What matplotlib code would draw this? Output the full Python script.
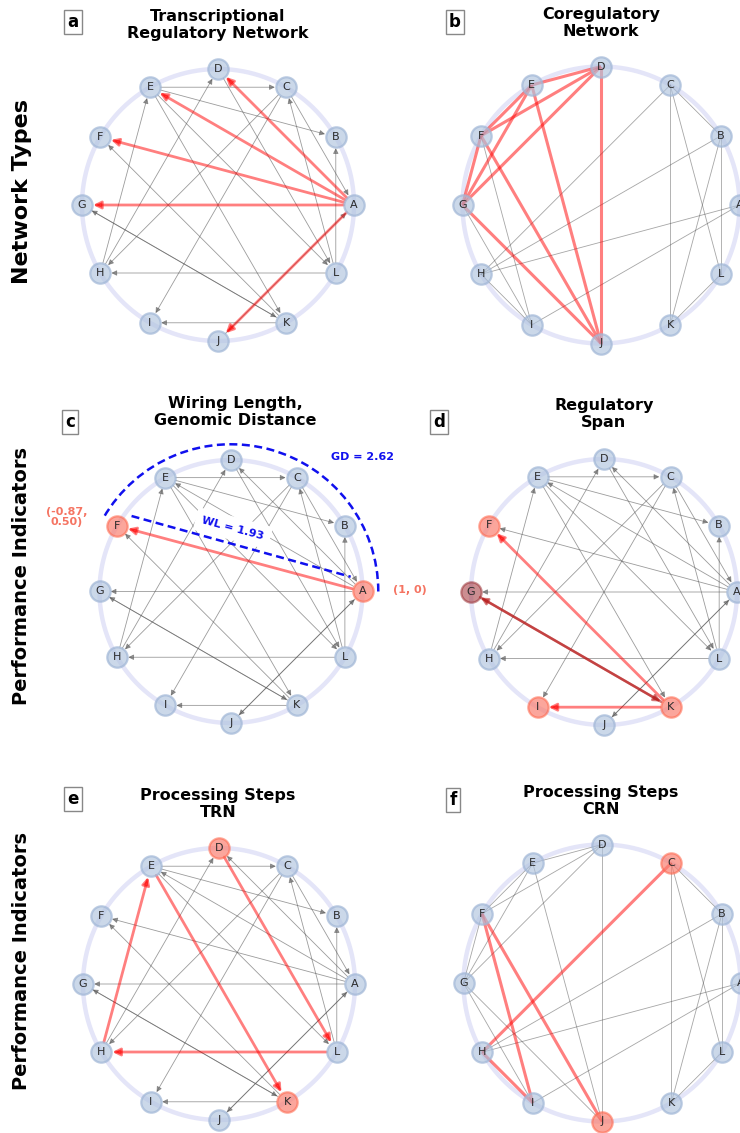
import numpy as np
import matplotlib.pyplot as plt
from matplotlib.patches import FancyArrowPatch, Arc

W, H = 740, 1133

# --- data -----------------------------------------------------------------
nodes = list("ABCDEFGHIJKL")
node_angles = [0, 30, 60, 90, 120, 150, 180, 210, 240, 270, 300, 330]

# transcriptional regulatory network (directed)
trn_edges = [("A", "D"), ("A", "E"), ("A", "F"), ("A", "G"), ("A", "J"), ("J", "A"),
             ("C", "A"), ("E", "C"), ("E", "B"), ("H", "D"), ("H", "E"), ("C", "H"),
             ("C", "I"), ("L", "C"), ("D", "L"), ("E", "L"), ("E", "K"), ("L", "B"),
             ("L", "H"), ("K", "I"), ("K", "F"), ("G", "K"), ("K", "G")]

# coregulatory network (undirected)
crn_edges = [("D", "E"), ("D", "F"), ("D", "G"), ("D", "J"), ("E", "F"), ("E", "G"),
             ("E", "J"), ("F", "G"), ("F", "J"), ("G", "J"), ("F", "I"), ("G", "I"),
             ("H", "I"), ("C", "H"), ("C", "B"), ("C", "K"), ("C", "L"), ("B", "K"),
             ("B", "L"), ("B", "H"), ("A", "H"), ("A", "I"), ("L", "K")]

red_a = [("A", "D"), ("A", "E"), ("A", "F"), ("A", "G"), ("A", "J")]
red_b = [("D", "E"), ("D", "F"), ("D", "G"), ("D", "J"), ("E", "F"), ("E", "G"),
         ("E", "J"), ("F", "G"), ("F", "J"), ("G", "J")]
red_c = [("A", "F")]
red_d = [("K", "F"), ("K", "I")]
dark_d = [("K", "G"), ("G", "K")]
red_e = [("D", "L"), ("L", "H"), ("H", "E"), ("E", "K")]
red_f = [("C", "H"), ("H", "I"), ("I", "F"), ("F", "J")]

hl_c = ["A", "F"]
hl_d = ["F", "I", "K"]
dark_nodes_d = ["G"]
hl_e = ["D", "K"]
hl_f = ["C", "J"]

wl_value = 1.93
gd_value = 2.62
coord_a = "(1, 0)"
coord_f = "(-0.87,\n0.50)"

titles = ["Transcriptional\nRegulatory Network", "Coregulatory\nNetwork",
          "Wiring Length,\nGenomic Distance", "Regulatory\nSpan",
          "Processing Steps\nTRN", "Processing Steps\nCRN"]
letters = ["a", "b", "c", "d", "e", "f"]
row_labels = ["Network Types", "Performance Indicators", "Performance Indicators"]

# --- layout (pixels) -------------------------------------------------------
centers = [(218, 205, 136), (601, 205, 138.5), (231, 591.5, 131.5),
           (604, 592, 133), (219, 984, 136), (602, 983, 138.5)]
title_pos = [(218, 25), (601, 23), (235, 412), (604, 414), (218, 804), (601, 801)]
letter_pos = [(73, 22), (455, 22), (70, 422), (439, 422), (73, 799), (453, 800)]
row_pos = [(22, 191), (22, 576), (22, 961)]
row_sizes = [16, 14, 14]

pos = {n: (np.cos(np.radians(a)), np.sin(np.radians(a))) for n, a in zip(nodes, node_angles)}

NODE_FACE = (176/255, 196/255, 222/255, 0.65)
NODE_EDGE = (160/255, 182/255, 214/255, 0.7)
HL_FACE = (250/255, 128/255, 114/255, 0.7)
HL_EDGE = (255/255, 99/255, 71/255, 0.55)
DARK_FACE = (163/255, 50/255, 55/255, 0.55)
DARK_EDGE = (150/255, 40/255, 45/255, 0.5)

fig = plt.figure(figsize=(W / 100, H / 100), dpi=100)

L = 1.5


def make_ax(cx, cy, r):
    ax = fig.add_axes([(cx - L * r) / W, 1 - (cy + L * r) / H, 2 * L * r / W, 2 * L * r / H])
    ax.set_xlim(-L, L)
    ax.set_ylim(-L, L)
    ax.axis("off")
    t = np.linspace(0, 2 * np.pi, 300)
    ax.plot(np.cos(t), np.sin(t), color="#e4e5f8", lw=3.2, zorder=0, solid_capstyle="round")
    return ax


def arrow(ax, u, v, color, lw, ms, z):
    p = FancyArrowPatch(pos[u], pos[v], arrowstyle="-|>", mutation_scale=ms,
                        color=color, lw=lw, shrinkA=7.5, shrinkB=8, zorder=z)
    ax.add_patch(p)


def draw_nodes(ax, hl=(), dark=()):
    for n in nodes:
        if n in dark:
            fc, ec = DARK_FACE, DARK_EDGE
        elif n in hl:
            fc, ec = HL_FACE, HL_EDGE
        else:
            fc, ec = NODE_FACE, NODE_EDGE
        x, y = pos[n]
        ax.scatter([x], [y], s=215, color=[fc], edgecolors=[ec], linewidths=1.6, zorder=3)
        ax.text(x, y, n, ha="center", va="center", fontsize=8, color="#2a2a2a", zorder=4)


def draw_trn(ax, red=(), dark=()):
    for u, v in trn_edges:
        if (u, v) in red or (u, v) in dark:
            continue
        arrow(ax, u, v, (0.35, 0.35, 0.35, 0.6), 0.6, 8, 1)
    for u, v in red:
        arrow(ax, u, v, (1, 0, 0, 0.5), 2.0, 11, 2)
    for u, v in dark:
        arrow(ax, u, v, (0.72, 0.12, 0.12, 0.6), 1.8, 10, 2)


def draw_crn(ax, red=()):
    red_set = {frozenset(e) for e in red}
    for u, v in crn_edges:
        if frozenset((u, v)) in red_set:
            continue
        (x1, y1), (x2, y2) = pos[u], pos[v]
        ax.plot([x1, x2], [y1, y2], color=(0.3, 0.3, 0.3, 0.5), lw=0.6, zorder=1)
    for u, v in red:
        (x1, y1), (x2, y2) = pos[u], pos[v]
        ax.plot([x1, x2], [y1, y2], color=(1, 0, 0, 0.5), lw=2.2, zorder=2,
                solid_capstyle="butt")


axes = [make_ax(*c) for c in centers]

# a
draw_trn(axes[0], red=red_a)
draw_nodes(axes[0])
# b
draw_crn(axes[1], red=red_b)
draw_nodes(axes[1])
# c
ax = axes[2]
draw_trn(ax, red=red_c)
draw_nodes(ax, hl=hl_c)
blue = "#1010ee"
ax.add_patch(Arc((0, 0), 2.24, 2.24, theta1=0, theta2=150, color=blue, lw=1.8,
                 linestyle=(0, (3.2, 1.8)), zorder=5))
fx, fy = pos["F"]
axx, ayy = pos["A"]
d = np.array([axx - fx, ayy - fy])
nrm = np.array([-d[1], d[0]]) / np.hypot(*d)
p0 = np.array([fx, fy]) + 0.045 * d + 0.1 * nrm
p1 = np.array([fx, fy]) + 0.94 * d + 0.085 * nrm
ax.plot([p0[0], p1[0]], [p0[1], p1[1]], color=blue, lw=1.8, linestyle=(0, (3.2, 1.8)), zorder=5)
ang = np.degrees(np.arctan2(d[1], d[0]))
ax.text(0.015, 0.48, f"WL = {wl_value:.2f}", rotation=ang, rotation_mode="anchor",
        ha="center", va="center", color=blue, fontsize=8, fontweight="bold", zorder=6,
        bbox=dict(boxstyle="square,pad=0.6", fc="white", ec="none"))
ax.text(1.0, 1.02, f"GD = {gd_value:.2f}", ha="center", va="center", color=blue,
        fontsize=8, fontweight="bold", zorder=6)
ax.text(1.357, 0.01, coord_a, ha="center", va="center", color="#f57462",
        fontsize=8, fontweight="bold", zorder=6)
ax.text(-1.247, 0.563, coord_f, ha="center", va="center", color="#f57462",
        fontsize=8, fontweight="bold", linespacing=1.0, zorder=6)
# d
draw_trn(axes[3], red=red_d, dark=dark_d)
draw_nodes(axes[3], hl=hl_d, dark=dark_nodes_d)
# e
draw_trn(axes[4], red=red_e)
draw_nodes(axes[4], hl=hl_e)
# f
draw_crn(axes[5], red=red_f)
draw_nodes(axes[5], hl=hl_f)

for (x, y), t in zip(title_pos, titles):
    fig.text(x / W, 1 - y / H, t, ha="center", va="center", fontsize=11.5,
             fontweight="bold", linespacing=1.1)
for (x, y), t in zip(letter_pos, letters):
    fig.text(x / W, 1 - y / H, t, ha="center", va="center", fontsize=12, fontweight="bold",
             bbox=dict(boxstyle="square,pad=0.2", fc="white", ec="#888888", lw=1))
for (x, y), t, fs in zip(row_pos, row_labels, row_sizes):
    fig.text(x / W, 1 - y / H, t, ha="center", va="center", rotation=90, fontsize=fs,
             fontweight="bold")

fig.savefig("out.png", dpi=100)
